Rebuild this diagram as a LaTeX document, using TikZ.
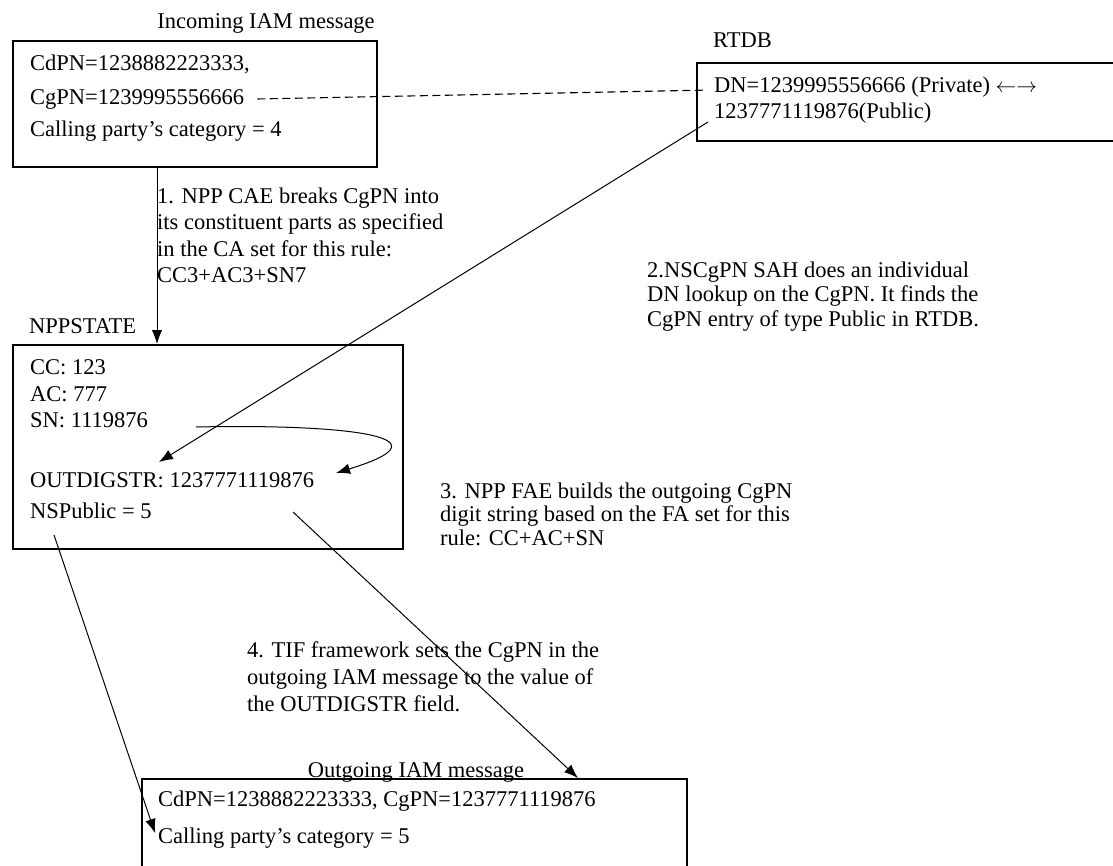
\documentclass[tikz,border=0pt]{standalone}
\usepackage{fontspec}
\setmainfont{Liberation Serif}
\usetikzlibrary{positioning,calc,arrows.meta}
\tikzset{
  figfont/.style={font=\fontsize{22.5}{26.5}\selectfont},
  figbox/.style={draw, line width=1.6pt, inner sep=0pt, anchor=north west},
  figtext/.style={inner sep=0pt, anchor=base west},
  figstep/.style={inner sep=0pt, anchor=north west, align=left},
  figarrow/.style={-{Latex[length=14pt,width=10.5pt]}, line width=1pt},
  figdash/.style={line width=1.1pt, dash pattern=on 8pt off 4.5pt},
}

\begin{document}
\begin{tikzpicture}[figfont, x=1pt, y=-1pt]
  \fill[white] (0,0) rectangle (1113,865);
  \useasboundingbox (0,0) rectangle (1113,865);

  % Message and state boxes
  \node[figbox, minimum width=364pt, minimum height=126pt] (inbox) at (12,40) {};
  \node[figbox, minimum width=440pt, minimum height=78pt] (rtdb) at (696,62) {};
  \node[figbox, minimum width=390pt, minimum height=204pt] (npp) at (12,344) {};
  \node[figbox, minimum width=545pt, minimum height=120pt] (outbox) at (141,778) {};

  % Box titles
  \node[figtext, anchor=base] (intitle) at (266,28) {Incoming IAM message};
  \node[figtext] (rtdbtitle) at (713,47) {RTDB};
  \node[figtext] (npptitle) at (29,333) {NPPSTATE};
  \node[figtext, anchor=base] (outtitle) at (416,777) {Outgoing IAM message};

  % Box contents
  \node[figtext] (cdpn) at (30,70) {CdPN=1238882223333,};
  \node[figtext] (cgpn) at (30,104) {CgPN=1239995556666};
  \node[figtext] (incat) at (30,136) {Calling party’s category = 4};
  \node[figtext] (dnpriv) at (714,92) {DN=1239995556666 (Private) $\leftarrow\rightarrow$};
  \node[figtext] (dnpub) at (714,118) {1237771119876(Public)};
  \node[figtext] (cc) at (30,374) {CC: 123};
  \node[figtext] (ac) at (30,401) {AC: 777};
  \node[figtext] (sn) at (30,427) {SN: 1119876};
  \node[figtext] (outdig) at (30,487) {OUTDIGSTR: 1237771119876};
  \node[figtext] (nspub) at (30,518) {NSPublic = 5};
  \node[figtext] (outnums) at (158,806) {CdPN=1238882223333, CgPN=1237771119876};
  \node[figtext] (outcat) at (158,843) {Calling party’s category = 5};

  % Step notes
  \node[figstep] (stepone) at (157,187.6)
  {1. NPP CAE breaks CgPN into\\its constituent parts as specified\\in the CA set for this rule:\\CC3+AC3+SN7};
  \node[figstep, font=\fontsize{22.5}{24.5}\selectfont] (steptwo) at (647,261.6)
  {2.NSCgPN SAH does an individual\\DN lookup on the CgPN. It finds the\\CgPN entry of type Public in RTDB.};
  \node[figstep, font=\fontsize{22.5}{23.5}\selectfont] (stepthree) at (440,482.6)
  {3. NPP FAE builds the outgoing CgPN\\digit string based on the FA set for this\\rule: CC+AC+SN};
  \node[figstep, font=\fontsize{22.5}{27}\selectfont] (stepfour) at (247,641.6)
  {4. TIF framework sets the CgPN in the\\outgoing IAM message to the value of\\the OUTDIGSTR field.};

  % Connectors
  \draw[figdash] ([xshift=13pt]cgpn.east) -- ([xshift=-7pt,yshift=-3.5pt]dnpriv.west);
  \draw[figarrow] (inbox.south -| stepone.west) -- (npp.north -| stepone.west);
  \draw[figarrow] ([xshift=-6pt,yshift=-4pt]dnpub.base west) -- ($(outdig.base west)+(129,-25)$);
  \draw[figarrow] ($(sn.base west)+(166,0)$) .. controls ($(sn.base west)+(305,-3)$)
    and ($(sn.base west)+(430,8)$) .. ($(outdig.base west)+(306,-14)$);
  \draw[figarrow] ($(nspub.base west)+(24,17)$) -- ($(outcat.base west)+(-3,-10)$);
  \draw[figarrow] ($(outdig.base west)+(263,25)$) -- ($(outbox.north west)+(437,0)$);
\end{tikzpicture}
\end{document}
